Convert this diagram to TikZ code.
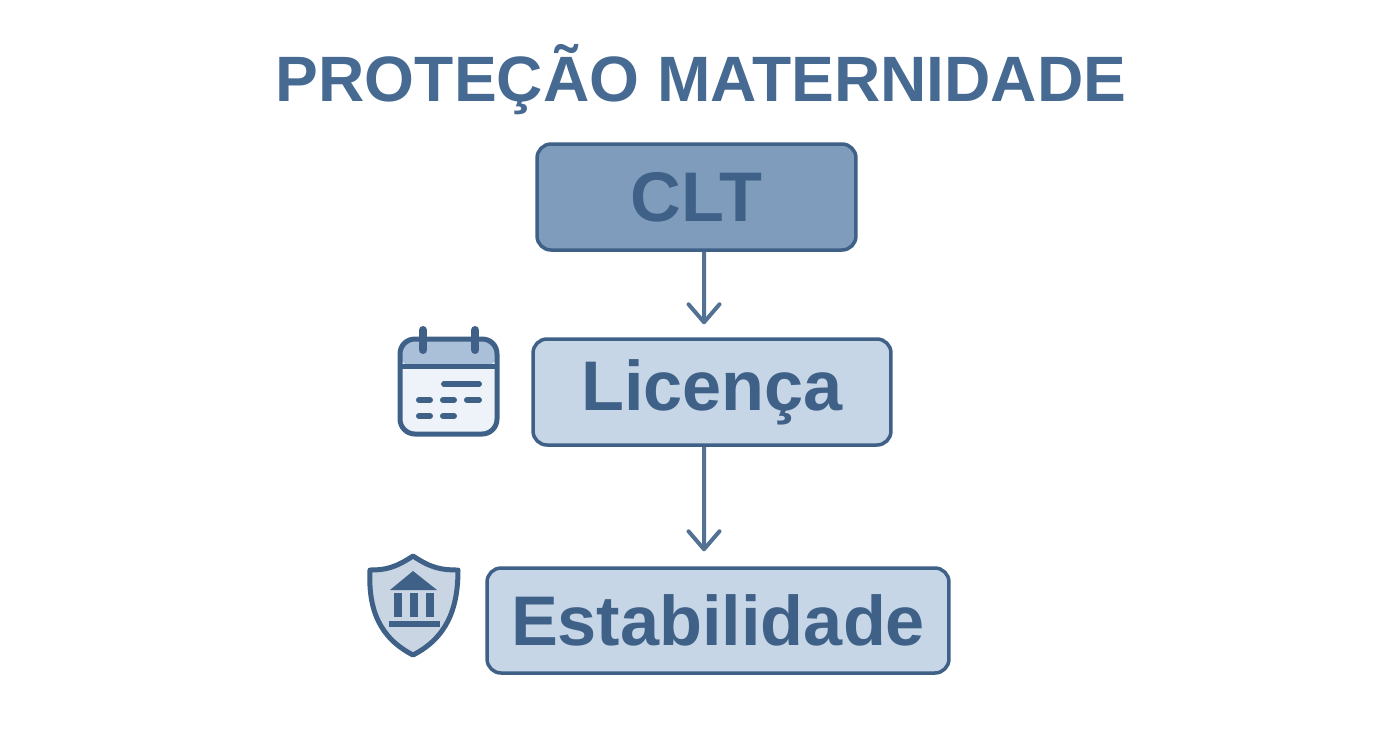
\documentclass[tikz,border=0pt]{standalone}
\usepackage{fontspec}
\usepackage{tikz}
\usetikzlibrary{arrows.meta}
\setmainfont{Liberation Sans}
\definecolor{inkblue}{HTML}{3F6187}
\definecolor{titleblue}{HTML}{466A92}
\definecolor{midblue}{HTML}{7F9CBD}
\definecolor{paleblue}{HTML}{C6D6E6}
\definecolor{headblue}{HTML}{AABFD8}
\definecolor{pageblue}{HTML}{EEF3F9}
\definecolor{shieldblue}{HTML}{C9D5E2}
\tikzset{
  box/.style={draw=inkblue, line width=0.07cm, rounded corners=0.28cm, inner sep=0pt,
    text=inkblue, font=\fontsize{40}{44}\bfseries, fill=paleblue},
  flow/.style={draw=inkblue!90!white, line width=0.08cm,
    -{Straight Barb[length=0.36cm,width=0.62cm,line width=0.08cm,round]}},
  calbar/.style={draw=inkblue, line width=0.12cm, line cap=round},
  icon/.style={draw=inkblue, line width=0.1cm, line join=round}
}
\begin{document}
\begin{tikzpicture}[x=0.02cm,y=-0.02cm]
\useasboundingbox (0,0) rectangle (1392,752);
\node[text=titleblue, font=\fontsize{36.5}{40}\bfseries] (title) at (701,80){PROTEÇÃO MATERNIDADE};
\node[box, fill=midblue, minimum width=6.38cm, minimum height=2.12cm] (clt) at (696.5,197){CLT};
\node[box, minimum width=7.16cm, minimum height=2.12cm] (licenca) at (712,392){Licença\hspace{0.4cm}};
\node[box, minimum width=9.24cm, minimum height=2.1cm] (estab) at (718,620.5){Estabilidade};
\draw[flow] ([xshift=0.15cm]clt.south) -- ([xshift=-0.16cm,yshift=0.26cm]licenca.north);
\draw[flow] ([xshift=-0.16cm]licenca.south) -- ([xshift=-0.28cm,yshift=0.3cm]estab.north);
% calendar
\fill[pageblue, rounded corners=0.3cm] (398,337) rectangle (499,436);
\fill[headblue, rounded corners=0.3cm] (398,337) -- (499,337) -- (499,366) -- (398,366) -- cycle;
\draw[icon] (398,366) -- (499,366);
\draw[icon, rounded corners=0.3cm] (400,339) rectangle (497,434);
\foreach \x in {423,475}
\draw[inkblue, line width=0.16cm, line cap=round] (\x,330) -- (\x,350);
\foreach \xa/\xb/\y in {444/479/384,419/430/400,443/454/400,467/479/400,419/430/416,443/454/416}
\draw[calbar] (\xa,\y) -- (\xb,\y);
% shield
\draw[icon, fill=shieldblue] (413,556) .. controls (395,568) and (385,570) .. (370,570)
  .. controls (368,610) and (380,638) .. (413,655)
  .. controls (446,638) and (458,610) .. (458,570)
  .. controls (441,570) and (431,568) .. (413,556) -- cycle;
\fill[inkblue] (413,571) -- (437,590) -- (390,590) -- cycle;
\foreach \xa/\xb in {394/402,410/418,426/434}
\fill[inkblue] (\xa,593) rectangle (\xb,617);
\fill[inkblue] (389,621) rectangle (440,627);
\end{tikzpicture}
\end{document}
